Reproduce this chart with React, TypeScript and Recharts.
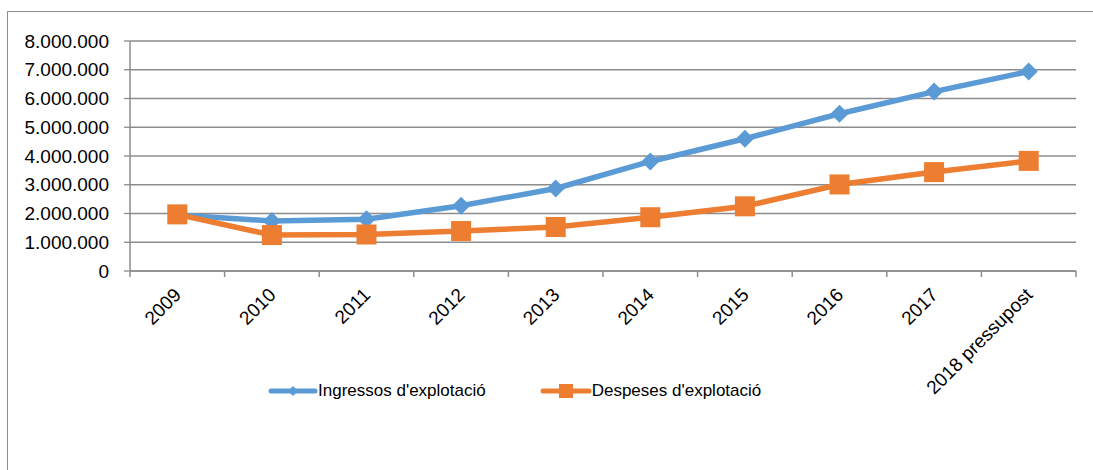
import React from 'react';
import { LineChart, Line, XAxis, YAxis, CartesianGrid } from 'recharts';

const categories = ['2009', '2010', '2011', '2012', '2013', '2014', '2015', '2016', '2017', '2018 pressupost'];
const ingressos = [1950000, 1740000, 1800000, 2270000, 2870000, 3810000, 4600000, 5470000, 6240000, 6940000];
const despeses = [1970000, 1250000, 1270000, 1390000, 1530000, 1870000, 2250000, 3010000, 3440000, 3830000];
const yTicks = [0, 1000000, 2000000, 3000000, 4000000, 5000000, 6000000, 7000000, 8000000];
const boundaryTicks = [0, 1, 2, 3, 4, 5, 6, 7, 8, 9, 10];
const seriesNames = ["Ingressos d'explotació", "Despeses d'explotació"];

const data = categories.map((c, i) => ({ cat: c, idx: i + 0.5, ing: ingressos[i], des: despeses[i] }));

const BLUE = '#5B9BD5';
const ORANGE = '#ED7D31';
const GRID = '#8C8C8C';
const FONT = '"Liberation Sans", Arial, sans-serif';

const fmt = (v: number) => String(v).replace(/\B(?=(\d{3})+(?!\d))/g, '.');

const Diamond = (props: any) => {
  const { cx, cy } = props;
  if (cx == null || cy == null) return null;
  const r = 9;
  return <path d={`M${cx},${cy - r}L${cx + r},${cy}L${cx},${cy + r}L${cx - r},${cy}Z`} fill={BLUE} />;
};

const Square = (props: any) => {
  const { cx, cy } = props;
  if (cx == null || cy == null) return null;
  const s = 10;
  return <rect x={cx - s} y={cy - s} width={2 * s} height={2 * s} fill={ORANGE} />;
};

const XTick = (props: any) => {
  const { x, y, payload } = props;
  const tx = x + 5;
  const ty = y + 16;
  return (
    <text x={tx} y={ty} transform={`rotate(-45 ${tx} ${ty})`} textAnchor="end" fontSize={19} fontFamily={FONT} fill="#000">
      {payload.value}
    </text>
  );
};

const NoTick = () => <g />;

export default function App() {
  return (
    <div style={{ position: 'absolute', left: 7, top: 11, width: 1100, height: 470, border: '1px solid #8C8C8C', boxSizing: 'border-box', background: '#fff' }}>
      <LineChart width={1081} height={457} data={data} margin={{ top: 29, right: 13, left: 0, bottom: 0 }}>
        <CartesianGrid vertical={false} stroke={GRID} strokeWidth={1.3} />
        <XAxis dataKey="idx" xAxisId="bound" type="number" domain={[0, 10]} ticks={boundaryTicks} tick={<NoTick />} tickLine={{ stroke: GRID, strokeWidth: 1.5 }} tickSize={6} axisLine={{ stroke: GRID, strokeWidth: 1.5 }} height={1} interval={0} />
        <XAxis dataKey="cat" xAxisId="cat" scale="band" tick={<XTick />} tickLine={false} axisLine={false} height={197} interval={0} />
        <YAxis domain={[0, 8000000]} ticks={yTicks} tickFormatter={fmt} width={122} tickSize={6} tickMargin={15}
          tick={{ fontSize: 19, fontFamily: FONT, fill: '#000' }} axisLine={{ stroke: GRID, strokeWidth: 1.5 }} tickLine={{ stroke: GRID, strokeWidth: 1.3 }} interval={0} />
        <Line xAxisId="cat" dataKey="ing" name={seriesNames[0]} stroke={BLUE} strokeWidth={5.5} dot={<Diamond />} isAnimationActive={false} />
        <Line xAxisId="cat" dataKey="des" name={seriesNames[1]} stroke={ORANGE} strokeWidth={5.5} dot={<Square />} isAnimationActive={false} />
      </LineChart>
      <div style={{ position: 'absolute', left: 260, top: 369, display: 'flex', alignItems: 'center', fontFamily: FONT, fontSize: 17, color: '#000' }}>
        <svg width={50} height={16}>
          <line x1={3} y1={8} x2={47} y2={8} stroke={BLUE} strokeWidth={5} strokeLinecap="round" />
          <path d="M25,3L30,8L25,13L20,8Z" fill={BLUE} />
        </svg>
        <span style={{ marginRight: 54 }}>{seriesNames[0]}</span>
        <svg width={52} height={18}>
          <line x1={3} y1={9} x2={49} y2={9} stroke={ORANGE} strokeWidth={5} strokeLinecap="round" />
          <rect x={19} y={2} width={14} height={14} fill={ORANGE} />
        </svg>
        <span>{seriesNames[1]}</span>
      </div>
    </div>
  );
}
